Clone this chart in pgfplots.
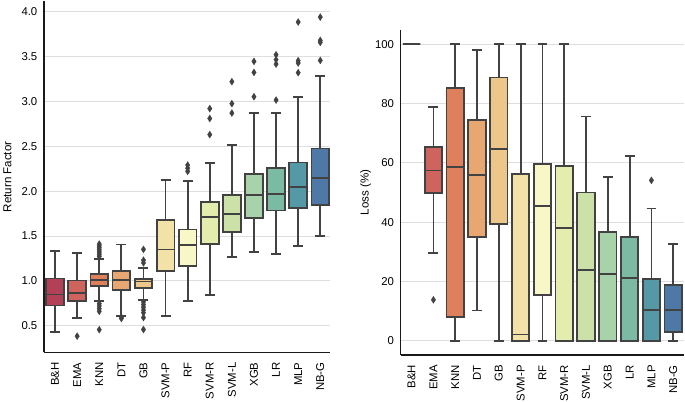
\documentclass[border=0pt]{standalone}
\usepackage{fontspec}
\setmainfont{Liberation Sans}
\usepackage{pgfplots}
\pgfplotsset{compat=1.18}
\usepgfplotslibrary{statistics}
\definecolor{boxline}{RGB}{66,66,66}
\definecolor{gridc}{RGB}{222,222,222}
\definecolor{c0}{RGB}{178,64,87}
\definecolor{c1}{RGB}{207,99,93}
\definecolor{c2}{RGB}{223,128,93}
\definecolor{c3}{RGB}{232,167,113}
\definecolor{c4}{RGB}{237,199,138}
\definecolor{c5}{RGB}{242,226,167}
\definecolor{c6}{RGB}{247,247,199}
\definecolor{c7}{RGB}{229,237,174}
\definecolor{c8}{RGB}{203,225,167}
\definecolor{c9}{RGB}{168,210,170}
\definecolor{c10}{RGB}{123,187,163}
\definecolor{c11}{RGB}{85,152,166}
\definecolor{c12}{RGB}{78,120,166}
\newcommand{\bx}[8]{\addplot[bxstyle, fill=#2, boxplot prepared={draw direction=y, draw position=#1, lower whisker=#3, lower quartile=#4, median=#5, upper quartile=#6, upper whisker=#7, box extend=0.8, whisker extend=0.45}] coordinates {#8};}
\pgfplotsset{
  boxplot/every whisker/.style={draw=boxline, line width=1.8bp},
  boxplot/every median/.style={draw=boxline, line width=1.8bp},
  bxstyle/.style={draw=boxline, line width=1.8bp, solid, mark=diamond*, mark size=3.5bp,
    mark options={fill=boxline, draw=boxline, line width=0.3bp, xscale=0.85}},
  common/.style={
    scale only axis,
    axis x line*=bottom, axis y line*=left,
    axis line style={black!90, line width=1.3bp},
    ymajorgrids, grid style={gridc, line width=0.9bp},
    major tick length=0pt,
    xmin=-0.5,
    xtick={0,...,12},
    xticklabels={B\&H,EMA,KNN,DT,GB,SVM-P,RF,SVM-R,SVM-L,XGB,LR,MLP,NB-G},
    tick label style={font=\fontsize{11.4}{13}\selectfont},
    xticklabel style={rotate=90, anchor=east, inner xsep=10bp},
    yticklabel style={anchor=east, inner xsep=6.5bp},
    label style={font=\fontsize{11.6}{13}\selectfont},
    /pgf/number format/assume math mode=true,
  }
}
\begin{document}
\begin{tikzpicture}
\begin{axis}[common,
  at={(44bp,49.7bp)}, anchor=south west,
  width=286bp, height=350.9bp,
  xmax=12.44, ymin=0.203, ymax=4.115,
  ytick={0.5,1,1.5,2,2.5,3,3.5,4},
  yticklabel style={/pgf/number format/.cd, fixed, fixed zerofill, precision=1},
  ylabel={Return Factor},
  ylabel style={at={(axis description cs:-0.128,0.5)}, anchor=center},
]
\bx{0}{c0}{0.428}{0.725}{0.848}{1.026}{1.330}{}
\bx{1}{c1}{0.586}{0.775}{0.868}{1.003}{1.307}{(1,0.383)}
\bx{2}{c2}{0.775}{0.938}{1.005}{1.075}{1.240}{(2,1.27) (2,1.29) (2,1.31) (2,1.33) (2,1.35) (2,1.37) (2,1.39) (2,1.41) (2,0.745) (2,0.72) (2,0.69) (2,0.66) (2,0.455)}
\bx{3}{c3}{0.610}{0.896}{1.013}{1.105}{1.405}{(3,0.595) (3,0.58)}
\bx{4}{c4}{0.790}{0.917}{0.993}{1.024}{1.140}{(4,1.35) (4,1.23) (4,1.20) (4,0.765) (4,0.735) (4,0.705) (4,0.675) (4,0.645) (4,0.59) (4,0.457)}
\bx{5}{c5}{0.611}{1.113}{1.348}{1.675}{2.121}{}
\bx{6}{c6}{0.775}{1.169}{1.396}{1.571}{2.113}{(6,2.29) (6,2.255) (6,2.22)}
\bx{7}{c7}{0.846}{1.407}{1.708}{1.875}{2.314}{(7,2.92) (7,2.81) (7,2.63)}
\bx{8}{c8}{1.266}{1.545}{1.749}{1.961}{2.515}{(8,3.22) (8,2.975) (8,2.87)}
\bx{9}{c9}{1.325}{1.704}{1.954}{2.191}{2.872}{(9,3.446) (9,3.323) (9,3.052)}
\bx{10}{c10}{1.303}{1.783}{1.965}{2.255}{2.872}{(10,3.52) (10,3.465) (10,3.416) (10,3.015)}
\bx{11}{c11}{1.392}{1.812}{2.043}{2.318}{3.045}{(11,3.885) (11,3.454) (11,3.428) (11,3.32)}
\bx{12}{c12}{1.498}{1.844}{2.146}{2.474}{3.286}{(12,3.94) (12,3.68) (12,3.658) (12,3.457)}
\end{axis}
\begin{axis}[common,
  at={(400.7bp,47bp)}, anchor=south west,
  width=283.4bp, height=325bp,
  xmax=12.5, ymin=-4.8, ymax=104.8,
  ytick={0,20,40,60,80,100},
  ylabel={Loss (\%)},
  ylabel style={at={(axis description cs:-0.124,0.5)}, anchor=center},
]
\bx{0}{c0}{100}{100}{100}{100}{100}{}
\bx{1}{c1}{29.7}{49.7}{57.4}{65.4}{78.9}{(1,13.8)}
\bx{2}{c2}{0}{7.9}{58.7}{85.2}{100}{}
\bx{3}{c3}{10.2}{35.1}{55.8}{74.4}{98.0}{}
\bx{4}{c4}{0}{39.4}{64.8}{88.8}{100}{}
\bx{5}{c5}{0}{0}{2.1}{56.2}{100}{}
\bx{6}{c6}{0}{15.3}{45.5}{59.5}{100}{}
\bx{7}{c7}{0}{0}{38.0}{58.9}{100}{}
\bx{8}{c8}{0}{0}{23.9}{50.0}{75.6}{}
\bx{9}{c9}{0}{0}{22.4}{36.7}{55.1}{}
\bx{10}{c10}{0}{0}{21.1}{34.9}{62.2}{}
\bx{11}{c11}{0}{0}{10.5}{20.7}{44.6}{(11,54.1)}
\bx{12}{c12}{0}{3.0}{10.4}{18.8}{32.5}{}
\end{axis}
\pgfresetboundingbox
\useasboundingbox (0,0) rectangle (685bp,402bp);
\end{tikzpicture}
\end{document}
